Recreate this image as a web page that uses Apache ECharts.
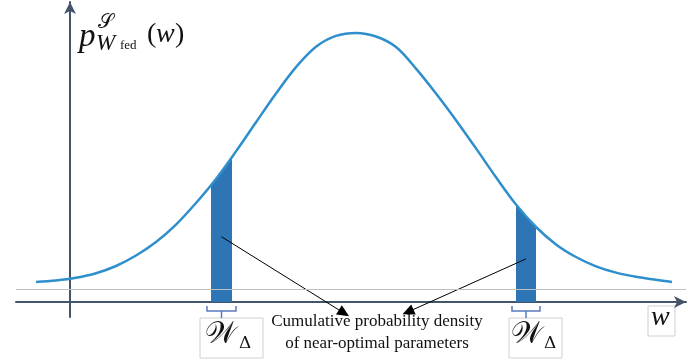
<!DOCTYPE html>
<html><head><meta charset="utf-8">
<script src="https://cdn.jsdelivr.net/npm/echarts@6/dist/echarts.min.js"></script>
<style>html,body{margin:0;padding:0;background:#fff}#c{width:688px;height:362px}</style>
</head><body><div id="c"></div>
<script>
const curveW = [-1.7, -0.7, 0.3, 1.3, 2.3, 3.3, 4.3, 5.3, 6.3, 7.3, 8.3, 9.3, 10.3, 11.3, 12.3, 13.3, 14.3, 15.3, 16.3, 17.3, 18.3, 19.3, 20.3, 21.3, 22.3, 23.3, 24.3, 25.3, 26.3, 27.3, 28.3, 29.3, 30.1];
const curveP = [0.067, 0.072, 0.081, 0.096, 0.120, 0.155, 0.200, 0.258, 0.330, 0.410, 0.502, 0.599, 0.695, 0.783, 0.851, 0.887, 0.897, 0.885, 0.850, 0.778, 0.695, 0.606, 0.512, 0.416, 0.325, 0.250, 0.192, 0.150, 0.119, 0.098, 0.084, 0.074, 0.067];
// shaded bands
const leftBandW = [7.05, 8.1];
const leftBandP = [0.39, 0.48];
const rightBandW = [22.3, 23.3];
const rightBandP = [0.325, 0.25];
// reference grey line level
const baselineP = 0.043;
// annotation arrow end points
const arrowEnds = [[13.7, -0.037], [16.9, -0.033]];
const annotationLines = ['Cumulative probability density', 'of near-optimal parameters'];

const X_MIN = -2.7, X_MAX = 30.8;
const chart = echarts.init(document.getElementById('c'));
const axisColor = '#44546a';
function bandData(ws, ps){ return ws.map((w,i)=>[w, ps[i]]); }
function bandCenter(ws, ps){ return [(ws[0]+ws[1])/2, (ps[0]+ps[1])/4]; }

const option = {
  animation: false,
  grid: {left: 16, right: 2, top: 2, bottom: 45},
  xAxis: {type: 'value', min: X_MIN, max: X_MAX,
    axisLine: {onZero: true, symbol: ['none', 'arrow'], symbolSize: [9, 12], lineStyle: {color: axisColor, width: 2}},
    axisTick: {show: false}, axisLabel: {show: false}, splitLine: {show: false}},
  yAxis: {type: 'value', min: -0.05, max: 1.0,
    axisLine: {show: true, onZero: true, symbol: ['none', 'arrow'], symbolSize: [9, 12], lineStyle: {color: axisColor, width: 2}},
    axisTick: {show: false}, axisLabel: {show: false}, splitLine: {show: false}},
  series: [
    {type: 'line', data: bandData(leftBandW, leftBandP), showSymbol: false, lineStyle: {width: 0},
      areaStyle: {color: '#2e75b6', opacity: 1, origin: 0}, z: 1},
    {type: 'line', data: bandData(rightBandW, rightBandP), showSymbol: false, lineStyle: {width: 0},
      areaStyle: {color: '#2e75b6', opacity: 1, origin: 0}, z: 1,
      markLine: {silent: true, symbol: ['none', 'triangle'], symbolSize: [11, 12],
        lineStyle: {color: '#000', width: 1, type: 'solid'}, label: {show: false},
        data: [
          [{coord: bandCenter(leftBandW, leftBandP)}, {coord: arrowEnds[0]}],
          [{coord: bandCenter(rightBandW, rightBandP)}, {coord: arrowEnds[1]}],
          [{coord: [X_MIN, baselineP], symbol: 'none', lineStyle: {color: '#bfbfbf', width: 1}}, {coord: [X_MAX, baselineP], symbol: 'none'}]
        ]}},
    {type: 'line', data: curveW.map((w,i)=>[w, curveP[i]]), smooth: 0.35, showSymbol: false,
      lineStyle: {color: '#2f8fcd', width: 2.5}, z: 3},
    {type: 'custom', data: [leftBandW, rightBandW], z: 2,
      renderItem: function(params, api){
        const a = api.coord([api.value(0), 0]);
        const b = api.coord([api.value(1), 0]);
        const x0 = a[0]-4, x1 = b[0]+4, y = a[1], m = (x0+x1)/2;
        const st = {stroke: '#5a7bbf', lineWidth: 1.5, fill: null};
        return {type: 'group', children: [
          {type: 'polyline', shape: {points: [[x0, y+4], [x0, y+9], [x1, y+9], [x1, y+4]]}, style: st},
          {type: 'line', shape: {x1: m, y1: y+9, x2: m, y2: y+16}, style: st}
        ]};
      }}
  ],
  graphic: [
    {type: 'text', x: 79, y: 21, style: {text: 'p', font: 'italic 33px "Liberation Serif", serif', fill: '#111'}},
    {type: 'text', x: 98, y: 13, style: {text: '𝒮', font: '20px "DejaVu Serif", serif', fill: '#111'}},
    {type: 'text', x: 96, y: 32, style: {text: 'W', font: 'italic 23px "Liberation Serif", serif', fill: '#111'}},
    {type: 'text', x: 120, y: 39, style: {text: 'fed', font: '13px "Liberation Serif", serif', fill: '#111'}},
    {type: 'text', x: 147, y: 21, style: {text: '(', font: '28px "Liberation Serif", serif', fill: '#111'}},
    {type: 'text', x: 156, y: 21, style: {text: 'w', font: 'italic 28px "Liberation Serif", serif', fill: '#111'}},
    {type: 'text', x: 175, y: 21, style: {text: ')', font: '28px "Liberation Serif", serif', fill: '#111'}},
    {type: 'rect', shape: {x: 200, y: 318, width: 63, height: 40}, style: {fill: '#fff', stroke: '#d0d0d0', lineWidth: 1}},
    {type: 'text', x: 205, y: 320, style: {text: '𝒲', font: '30px "DejaVu Serif", serif', fill: '#111'}},
    {type: 'text', x: 239, y: 335, style: {text: 'Δ', font: '17px "DejaVu Serif", serif', fill: '#111'}},
    {type: 'rect', shape: {x: 509, y: 318, width: 53, height: 40}, style: {fill: '#fff', stroke: '#d0d0d0', lineWidth: 1}},
    {type: 'text', x: 511, y: 320, style: {text: '𝒲', font: '30px "DejaVu Serif", serif', fill: '#111'}},
    {type: 'text', x: 544, y: 335, style: {text: 'Δ', font: '17px "DejaVu Serif", serif', fill: '#111'}},
    {type: 'rect', shape: {x: 648, y: 306, width: 27, height: 30}, style: {fill: '#fff', stroke: '#d0d0d0', lineWidth: 1}},
    {type: 'text', x: 651, y: 304, style: {text: 'w', font: 'italic 28px "Liberation Serif", serif', fill: '#111'}},
    {type: 'text', x: 377, y: 322, style: {text: annotationLines[0], font: '17px "Liberation Serif", serif', fill: '#111', align: 'center', verticalAlign: 'middle'}},
    {type: 'text', x: 377, y: 344, style: {text: annotationLines[1], font: '17px "Liberation Serif", serif', fill: '#111', align: 'center', verticalAlign: 'middle'}}
  ]
};
chart.setOption(option);
</script></body></html>
